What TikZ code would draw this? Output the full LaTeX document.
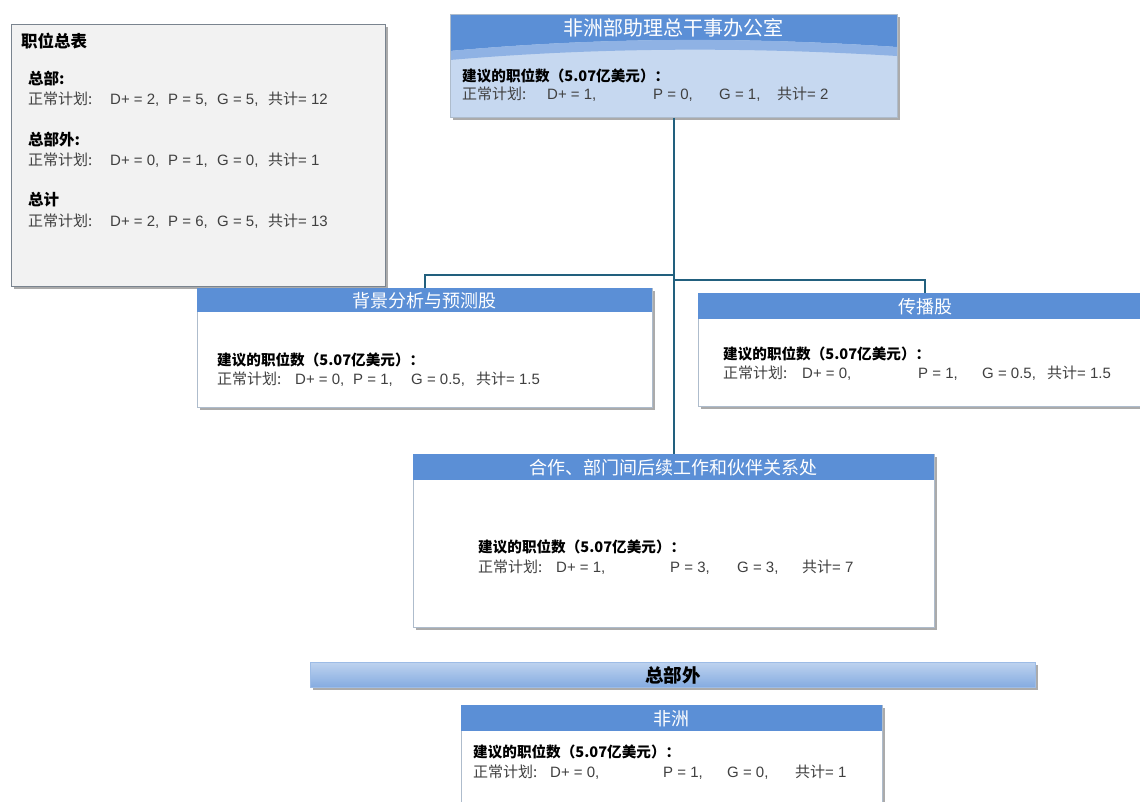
\documentclass[tikz,border=0pt]{standalone}
\usepackage{fontspec}
\setmainfont{Liberation Sans}
\newfontfamily\cjk{Noto Sans CJK SC}
\usetikzlibrary{shadows}

\definecolor{headblue}{HTML}{5B8FD6}
\definecolor{adgmid}{HTML}{8FB2E4}
\definecolor{adglight}{HTML}{C6D8F0}
\definecolor{linkteal}{HTML}{22607E}
\definecolor{rimgray}{HTML}{AEBCCC}
\definecolor{rowgray}{HTML}{404040}
\definecolor{sumfill}{HTML}{F2F2F2}

\tikzset{
    boxshadow/.style={drop shadow={shadow xshift=2.5pt, shadow yshift=-2.5pt, fill=black!55, opacity=0.6}},
    unitbox/.style={draw=rimgray, fill=white, line width=0.8pt, inner sep=0pt, anchor=north west, boxshadow},
    unithead/.style={fill=headblue, inner sep=0pt, anchor=north west, text=white, font=\cjk\fontsize{18}{20}\selectfont},
    rowtext/.style={anchor=west, inner sep=0pt, text height=13pt, text depth=3pt, text=rowgray, font=\fontsize{15}{17}\selectfont},
    boldtext/.style={rowtext, text=black, font=\cjk\bfseries\fontsize{14.6}{17}\selectfont},
    link/.style={draw=linkteal, line width=2pt}
}

\begin{document}
\begin{tikzpicture}[x=1pt, y=-1pt]
    \useasboundingbox (0,0) rectangle (1140,801);

    % summary of posts
    \node[unitbox, fill=sumfill, draw=black!30!rimgray, minimum width=374, minimum height=262] (sumbox) at (11,24) {};
    \node[boldtext, font=\cjk\bfseries\fontsize{16.5}{18}\selectfont] (sumtitle) at (21,42) {职位总表};
    \node[boldtext, font=\cjk\bfseries\fontsize{15.5}{17}\selectfont] (sumhq) at (28,79) {总部:};
    \foreach \px/\txt [count=\k] in {28/{\cjk 正常计划:}, 110/{D+ = 2,}, 168/{P = 5,}, 217/{G = 5,}, 268/{{\cjk 共计}= 12}}
        \node[rowtext] (hqrow\k) at (\px,99) {\txt};
    \node[boldtext, font=\cjk\bfseries\fontsize{15.5}{17}\selectfont] (sumaway) at (28,140) {总部外:};
    \foreach \px/\txt [count=\k] in {28/{\cjk 正常计划:}, 110/{D+ = 0,}, 168/{P = 1,}, 217/{G = 0,}, 268/{{\cjk 共计}= 1}}
        \node[rowtext] (awayrow\k) at (\px,160) {\txt};
    \node[boldtext, font=\cjk\bfseries\fontsize{15.5}{17}\selectfont] (sumall) at (28,200) {总计};
    \foreach \px/\txt [count=\k] in {28/{\cjk 正常计划:}, 110/{D+ = 2,}, 168/{P = 6,}, 217/{G = 5,}, 268/{{\cjk 共计}= 13}}
        \node[rowtext] (allrow\k) at (\px,221) {\txt};

    % office of the ADG
    \node[unitbox, fill=adglight, minimum width=447, minimum height=103] (adg) at (450,14) {};
    \fill[headblue] (450,14) -- (897,14) -- (897,47) .. controls (750,37) and (600,37) .. (450,51) -- cycle;
    \fill[adgmid] (897,47) .. controls (750,37) and (600,37) .. (450,51) -- (450,60) .. controls (600,47) and (750,47) .. (897,56) -- cycle;
    \draw[rimgray, line width=0.8pt] (adg.north west) rectangle (adg.south east);
    \node[text=white, font=\cjk\fontsize{20}{22}\selectfont] (adgtitle) at (673.5,28) {非洲部助理总干事办公室};
    \node[boldtext] (adgpost) at (462,76) {建议的职位数（5.07亿美元）：};
    \foreach \px/\txt [count=\k] in {462/{\cjk 正常计划:}, 547/{D+ = 1,}, 653/{P = 0,}, 719/{G = 1,}, 777/{{\cjk 共计}= 2}}
        \node[rowtext] (adgrow\k) at (\px,94) {\txt};

    % background analysis
    \node[unitbox, minimum width=455, minimum height=119] (bg) at (197,288) {};
    \node[unithead, minimum width=455, minimum height=24] (bghead) at (bg.north west) {背景分析与预测股};
    \node[boldtext] (bgpost) at (217,360) {建议的职位数（5.07亿美元）：};
    \foreach \px/\txt [count=\k] in {217/{\cjk 正常计划:}, 295/{D+ = 0,}, 353/{P = 1,}, 411/{G = 0.5,}, 476/{{\cjk 共计}= 1.5}}
        \node[rowtext] (bgrow\k) at (\px,379) {\txt};

    % communication
    \node[unitbox, minimum width=454, minimum height=113] (comm) at (698,293) {};
    \node[unithead, minimum width=454, minimum height=26] (commhead) at (comm.north west) {传播股};
    \node[boldtext] (commpost) at (723,354) {建议的职位数（5.07亿美元）：};
    \foreach \px/\txt [count=\k] in {723/{\cjk 正常计划:}, 802/{D+ = 0,}, 918/{P = 1,}, 982/{G = 0.5,}, 1047/{{\cjk 共计}= 1.5}}
        \node[rowtext] (commrow\k) at (\px,373) {\txt};

    % cooperation and partnerships
    \node[unitbox, minimum width=521, minimum height=173] (coop) at (413,454) {};
    \node[unithead, minimum width=521, minimum height=26] (coophead) at (coop.north west) {合作、部门间后续工作和伙伴关系处};
    \node[boldtext] (cooppost) at (478,547) {建议的职位数（5.07亿美元）：};
    \foreach \px/\txt [count=\k] in {478/{\cjk 正常计划:}, 556/{D+ = 1,}, 670/{P = 3,}, 737/{G = 3,}, 802/{{\cjk 共计}= 7}}
        \node[rowtext] (cooprow\k) at (\px,567) {\txt};

    % away from headquarters
    \node[unitbox, draw=headblue!60, top color=headblue!40, bottom color=headblue!75, minimum width=725, minimum height=25,
          font=\cjk\bfseries\fontsize{18.5}{20}\selectfont] (band) at (310,662) {总部外};
    \node[unitbox, minimum width=421, minimum height=110] (africa) at (461,705) {};
    \node[unithead, minimum width=421, minimum height=26] (africahead) at (africa.north west) {非洲};
    \node[boldtext] (africapost) at (473,752) {建议的职位数（5.07亿美元）：};
    \foreach \px/\txt [count=\k] in {473/{\cjk 正常计划:}, 550/{D+ = 0,}, 663/{P = 1,}, 727/{G = 0,}, 795/{{\cjk 共计}= 1}}
        \node[rowtext] (africarow\k) at (\px,772) {\txt};

    % connectors
    \coordinate (forkl) at (673.5,275);
    \coordinate (forkr) at (673.5,280);
    \draw[link] (adg.south) -- (coop.north);
    \draw[link] (bg.north) |- (forkl);
    \draw[link] (comm.north) |- (forkr);
\end{tikzpicture}
\end{document}
